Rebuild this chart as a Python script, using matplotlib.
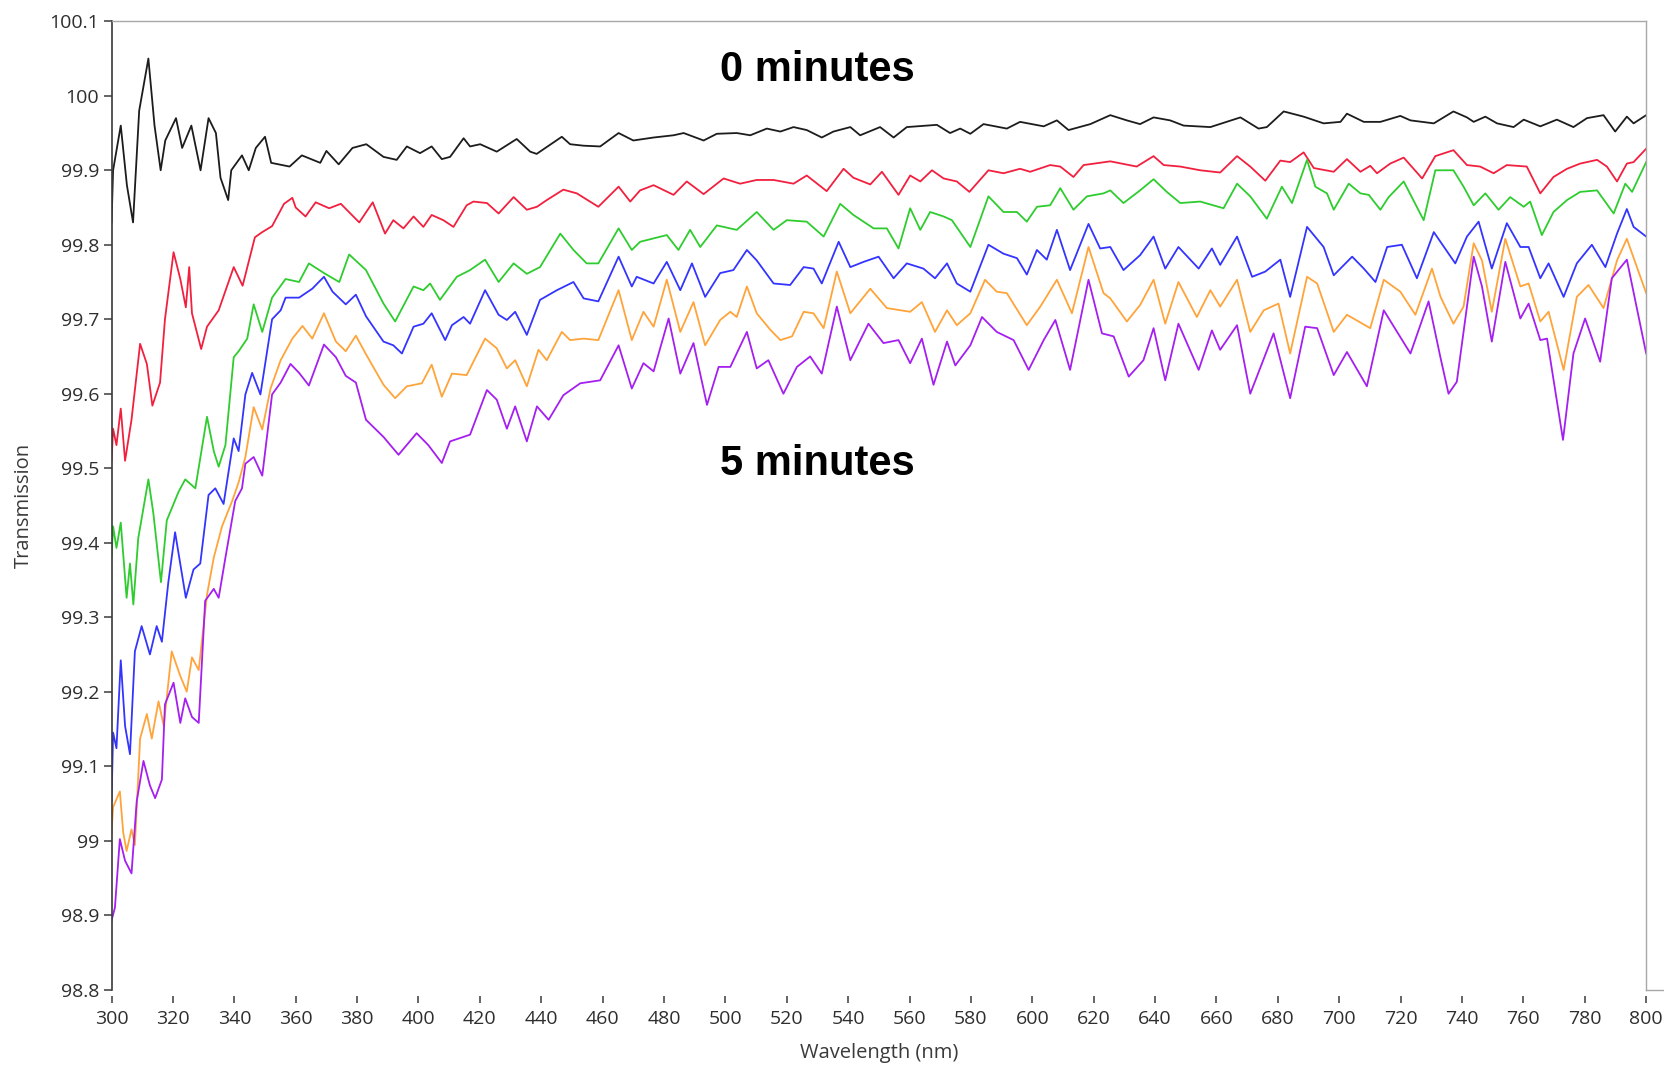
import matplotlib
matplotlib.use("Agg")
import matplotlib.pyplot as plt
from matplotlib.lines import Line2D

# transmission spectra taken every minute, 0 min (top) to 5 min (bottom)
wl_0 = [300, 300.5, 303, 305, 307, 309, 312, 314, 316, 317.5, 321, 323, 326, 329, 331.6, 334, 335.5,
        338, 339, 342.5, 344.7, 347, 350, 352, 358, 362, 368, 370, 374, 378.5, 383, 388.6, 392.9,
        396.2, 400.5, 404.3, 407.6, 410.3, 414.7, 416.8, 420.1, 425.5, 432, 436.4, 438.5, 446.7,
        449.4, 453.8, 459.2, 465.2, 470, 476.6, 483.1, 486.4, 492.9, 497.2, 503.7, 508.1, 513.5,
        517.9, 522.2, 526.5, 531.4, 535.2, 540.7, 543.9, 550.4, 554.8, 559.1, 568.9, 573.2, 576.5,
        579.8, 584.1, 591.7, 596, 603.7, 608, 611.8, 618.9, 625.4, 630.8, 635.1, 639.5, 644.9,
        649.3, 658, 667.8, 673.7, 676.4, 681.9, 688.4, 694.9, 700.4, 702.5, 708, 713.4, 719.9,
        723.2, 730.8, 737.2, 741.6, 743.8, 747.6, 751.4, 756.8, 760.1, 765.5, 770.9, 776.3, 780.7,
        786.1, 789.9, 793.7, 795.9, 800]
t_0 = [99.83, 99.90, 99.96, 99.88, 99.83, 99.98, 100.05, 99.96, 99.90, 99.94, 99.97, 99.93, 99.96,
       99.90, 99.97, 99.95, 99.89, 99.86, 99.90, 99.92, 99.90, 99.93, 99.945, 99.91, 99.905, 99.92,
       99.91, 99.926, 99.908, 99.93, 99.935, 99.918, 99.914, 99.932, 99.923, 99.932, 99.915, 99.918,
       99.943, 99.932, 99.935, 99.925, 99.942, 99.925, 99.922, 99.945, 99.935, 99.933, 99.932,
       99.95, 99.94, 99.944, 99.947, 99.95, 99.94, 99.949, 99.95, 99.947, 99.956, 99.952, 99.958,
       99.954, 99.944, 99.952, 99.958, 99.947, 99.958, 99.944, 99.958, 99.961, 99.95, 99.956,
       99.949, 99.962, 99.956, 99.965, 99.959, 99.967, 99.954, 99.962, 99.974, 99.967, 99.962,
       99.971, 99.967, 99.96, 99.958, 99.971, 99.956, 99.958, 99.979, 99.972, 99.963, 99.965,
       99.976, 99.965, 99.965, 99.973, 99.967, 99.963, 99.979, 99.971, 99.965, 99.972, 99.963,
       99.958, 99.968, 99.959, 99.968, 99.958, 99.97, 99.974, 99.952, 99.972, 99.963, 99.974]

wl_1 = [300, 300.5, 301.6, 303, 304.4, 306.5, 309.3, 311.5, 313.3, 315.8, 317.4, 320.2, 322.4, 324.2,
        325.3, 326.2, 329.2, 331.1, 334.9, 339.8, 342.7, 346.7, 349.1, 352.3, 356.2, 358.9, 360,
        363.2, 366.5, 370.9, 374.7, 380.7, 385.1, 389.1, 391.8, 395.1, 398.4, 401.6, 404.3, 408.1,
        411.4, 415.7, 417.9, 422.3, 426.1, 431, 435.3, 438.6, 441.8, 447.2, 451.6, 458.6, 465.2,
        469, 472.2, 476.6, 483.1, 487.4, 492.9, 499.4, 504.8, 510.2, 515.7, 522.2, 526.5, 533,
        538.5, 541.7, 547.2, 551, 556.4, 560.2, 563.5, 567.3, 571.1, 575.4, 579.5, 585.7, 590.6,
        596, 599.3, 605.8, 609.1, 613.4, 616.7, 625.4, 634, 639.5, 642.8, 648.2, 654.7, 661.2,
        666.7, 671, 675.9, 680.8, 684, 688.4, 691.7, 698.2, 702.5, 706.9, 710.1, 712.3, 716.6,
        721, 727, 731.3, 737.2, 741.6, 745.9, 750.3, 754.6, 761.1, 765.5, 769.8, 774.2, 778.5,
        784, 787.2, 790.5, 793.7, 795.9, 800]
t_1 = [99.51, 99.553, 99.531, 99.58, 99.51, 99.565, 99.667, 99.64, 99.584, 99.615, 99.70, 99.79,
       99.754, 99.716, 99.77, 99.708, 99.66, 99.69, 99.712, 99.77, 99.745, 99.81, 99.817, 99.825,
       99.855, 99.863, 99.85, 99.838, 99.857, 99.849, 99.855, 99.83, 99.857, 99.815, 99.833,
       99.822, 99.838, 99.824, 99.84, 99.833, 99.824, 99.853, 99.858, 99.856, 99.842, 99.864,
       99.847, 99.851, 99.86, 99.874, 99.869, 99.851, 99.878, 99.858, 99.873, 99.88, 99.867,
       99.885, 99.868, 99.889, 99.882, 99.887, 99.887, 99.882, 99.893, 99.872, 99.902, 99.89,
       99.881, 99.898, 99.867, 99.893, 99.885, 99.90, 99.889, 99.885, 99.871, 99.90, 99.896,
       99.902, 99.898, 99.907, 99.905, 99.891, 99.907, 99.912, 99.905, 99.919, 99.907, 99.905,
       99.90, 99.897, 99.919, 99.905, 99.886, 99.913, 99.911, 99.924, 99.903, 99.898, 99.915,
       99.898, 99.906, 99.896, 99.909, 99.917, 99.889, 99.919, 99.927, 99.907, 99.905, 99.896,
       99.907, 99.905, 99.869, 99.891, 99.902, 99.909, 99.914, 99.905, 99.885, 99.909, 99.911,
       99.929]

wl_2 = [300, 300.5, 301.6, 303, 304.9, 306, 307.1, 308.7, 312, 313.6, 316.1, 318, 321.8, 324, 327.3,
        331.1, 333.3, 334.9, 337.1, 339.8, 341.4, 344.2, 346.3, 349.1, 352.3, 356.7, 361.1, 364.3,
        369.2, 374.2, 377.4, 382.9, 388.6, 392.4, 398.4, 401.6, 403.8, 407, 412.5, 416.8, 421.7,
        426.1, 431, 435.3, 439.6, 446.2, 450.5, 454.8, 458.6, 465.2, 469.5, 472.2, 480.9, 484.7,
        488.5, 491.8, 497.2, 503.7, 510.2, 515.7, 520, 526.5, 532, 537.4, 541.7, 548.3, 552.6,
        556.4, 560.2, 563.5, 566.7, 571.1, 573.8, 579.8, 585.7, 590.6, 595, 598.2, 601.5, 605.8,
        609.1, 613.4, 617.8, 623.2, 625.4, 629.7, 635.1, 639.5, 643.8, 648.2, 654.7, 662.3, 666.7,
        671, 676.4, 681.3, 684.6, 689.5, 692.2, 696, 698.2, 703.1, 706.9, 709.6, 713.4, 716.1,
        721, 727.5, 731.3, 737.2, 740.5, 743.8, 747.6, 751.9, 755.7, 760.1, 762.2, 766, 769.8,
        774.2, 778.5, 784, 789.4, 793.2, 795.4, 800]
t_2 = [99.38, 99.422, 99.393, 99.427, 99.326, 99.372, 99.317, 99.406, 99.485, 99.44, 99.347, 99.43,
       99.468, 99.485, 99.473, 99.569, 99.523, 99.502, 99.531, 99.649, 99.657, 99.674, 99.72,
       99.683, 99.729, 99.754, 99.75, 99.775, 99.762, 99.75, 99.787, 99.766, 99.721, 99.697,
       99.744, 99.739, 99.748, 99.726, 99.757, 99.766, 99.78, 99.75, 99.775, 99.761, 99.77,
       99.815, 99.793, 99.775, 99.775, 99.822, 99.793, 99.804, 99.813, 99.793, 99.82, 99.797,
       99.826, 99.82, 99.844, 99.82, 99.833, 99.831, 99.811, 99.855, 99.84, 99.822, 99.822,
       99.795, 99.849, 99.82, 99.844, 99.838, 99.833, 99.797, 99.865, 99.844, 99.844, 99.831,
       99.851, 99.853, 99.876, 99.847, 99.865, 99.869, 99.873, 99.856, 99.873, 99.888, 99.871,
       99.856, 99.858, 99.849, 99.882, 99.865, 99.835, 99.878, 99.856, 99.914, 99.878, 99.869,
       99.847, 99.882, 99.869, 99.867, 99.847, 99.864, 99.885, 99.833, 99.90, 99.90, 99.878,
       99.853, 99.869, 99.847, 99.864, 99.851, 99.858, 99.813, 99.844, 99.86, 99.871, 99.873,
       99.842, 99.882, 99.871, 99.911]

wl_3 = [300, 300.5, 301.6, 303, 304.4, 306, 307.6, 309.8, 312.5, 314.7, 316.4, 318.5, 320.7, 324.2,
        326.7, 328.9, 331.6, 333.8, 336.5, 339.8, 341.4, 343.6, 345.8, 348.5, 352.3, 355.1, 356.7,
        361.1, 365.4, 369.2, 372, 376.3, 379.6, 382.9, 388.6, 391.8, 394.6, 398.4, 401.6, 404.3,
        408.7, 410.9, 414.7, 416.8, 421.7, 426.1, 428.8, 431.5, 435.3, 439.6, 445.1, 450.5, 453.8,
        458.6, 465.2, 469.5, 471.1, 476.6, 480.9, 485.3, 489.1, 493.4, 498.3, 502.6, 507, 510.2,
        515.7, 521.1, 525.5, 528.7, 531.4, 536.9, 540.7, 545, 549.9, 554.8, 559.1, 564.5, 568.3,
        572.2, 575.4, 579.8, 585.7, 590.6, 595, 598.2, 601.5, 604.7, 608, 612.3, 618.3, 622.1,
        625.4, 629.7, 635.1, 639.5, 643.3, 647.6, 654.2, 658.5, 661.2, 666.7, 671.6, 675.9, 680.8,
        684, 689.5, 694.9, 698.2, 704.2, 708, 711.8, 715.6, 720.4, 725.3, 730.8, 737.8, 741.6,
        745.4, 749.7, 754.6, 759, 761.7, 765.5, 768.2, 773.1, 777.4, 782.3, 786.7, 790.5, 793.7,
        795.9, 800]
t_3 = [99.053, 99.145, 99.124, 99.242, 99.154, 99.116, 99.254, 99.288, 99.25, 99.288, 99.267,
       99.347, 99.414, 99.326, 99.364, 99.372, 99.464, 99.473, 99.452, 99.54, 99.523, 99.599,
       99.628, 99.599, 99.70, 99.712, 99.729, 99.729, 99.741, 99.757, 99.737, 99.72, 99.733,
       99.704, 99.67, 99.665, 99.654, 99.69, 99.694, 99.708, 99.672, 99.692, 99.703, 99.694,
       99.739, 99.706, 99.699, 99.71, 99.679, 99.726, 99.739, 99.75, 99.728, 99.724, 99.784,
       99.744, 99.757, 99.748, 99.777, 99.739, 99.775, 99.73, 99.762, 99.766, 99.793, 99.779,
       99.748, 99.746, 99.77, 99.768, 99.748, 99.804, 99.77, 99.777, 99.784, 99.755, 99.775,
       99.768, 99.755, 99.775, 99.748, 99.737, 99.80, 99.788, 99.782, 99.76, 99.793, 99.78,
       99.82, 99.766, 99.828, 99.795, 99.797, 99.766, 99.786, 99.811, 99.768, 99.797, 99.768,
       99.795, 99.773, 99.811, 99.757, 99.764, 99.78, 99.73, 99.824, 99.797, 99.759, 99.784,
       99.768, 99.75, 99.797, 99.80, 99.755, 99.817, 99.775, 99.811, 99.831, 99.768, 99.829,
       99.797, 99.797, 99.755, 99.775, 99.73, 99.775, 99.80, 99.77, 99.815, 99.848, 99.824,
       99.811]

wl_4 = [300, 300.5, 302.7, 303.8, 304.9, 306.5, 307.6, 309.3, 311.5, 313.1, 315.3, 317, 319.6, 322.4,
        324.5, 326.2, 328.4, 331.1, 333.3, 336, 339.3, 341.4, 343.6, 346.3, 349.1, 351.8, 355.1,
        358.9, 362.2, 365.4, 369.2, 373.1, 376.3, 379.6, 382.9, 388.6, 392.4, 396.2, 401.1, 404.3,
        407.6, 410.9, 415.7, 421.7, 425.5, 428.8, 431.5, 435.3, 439.1, 441.8, 446.7, 449.4, 453.8,
        458.6, 465.2, 469.5, 473.3, 476.6, 480.9, 485.3, 489.6, 493.4, 498.3, 501.6, 503.7, 507,
        510.2, 514.6, 517.9, 521.7, 525.5, 528.7, 532, 536.3, 540.7, 547.2, 552.6, 560.2, 564,
        568.3, 572.2, 575.4, 579.8, 584.6, 588.4, 591.7, 598.2, 602.6, 608, 612.9, 618.3, 623.2,
        625.4, 630.8, 635.1, 639.5, 643.3, 647.6, 653.6, 658, 661.2, 666.7, 671, 675.4, 680.2,
        684, 689.5, 692.8, 698.2, 702.5, 710.1, 714.5, 719.9, 724.8, 730.2, 733, 737.2, 740.5,
        743.8, 746.5, 749.7, 754.1, 759, 761.7, 765.5, 768.2, 773.1, 777.4, 781.2, 786.1, 790.5,
        793.7, 800]
t_4 = [99.011, 99.045, 99.066, 99.011, 98.986, 99.015, 98.994, 99.137, 99.17, 99.137, 99.187,
       99.154, 99.254, 99.221, 99.20, 99.246, 99.229, 99.33, 99.38, 99.422, 99.456, 99.481,
       99.515, 99.582, 99.552, 99.607, 99.645, 99.674, 99.691, 99.674, 99.708, 99.67, 99.657,
       99.678, 99.653, 99.612, 99.594, 99.61, 99.614, 99.639, 99.596, 99.627, 99.625, 99.674,
       99.661, 99.634, 99.645, 99.61, 99.659, 99.645, 99.683, 99.672, 99.674, 99.672, 99.739,
       99.672, 99.71, 99.69, 99.753, 99.683, 99.723, 99.665, 99.699, 99.71, 99.703, 99.744,
       99.708, 99.686, 99.672, 99.677, 99.71, 99.708, 99.688, 99.764, 99.708, 99.741, 99.715,
       99.71, 99.723, 99.683, 99.712, 99.692, 99.708, 99.753, 99.737, 99.735, 99.692, 99.717,
       99.753, 99.708, 99.797, 99.735, 99.728, 99.697, 99.719, 99.753, 99.694, 99.75, 99.703,
       99.739, 99.717, 99.753, 99.683, 99.712, 99.721, 99.654, 99.757, 99.748, 99.683, 99.706,
       99.688, 99.753, 99.737, 99.706, 99.768, 99.73, 99.694, 99.717, 99.802, 99.779, 99.71,
       99.808, 99.744, 99.748, 99.697, 99.71, 99.632, 99.73, 99.746, 99.715, 99.779, 99.808,
       99.735]

wl_5 = [300, 301.1, 302.7, 304.4, 306.5, 308.2, 310.4, 312.5, 314.2, 316.4, 317.4, 320.2, 322.4, 324,
        326.2, 328.4, 330.5, 333.3, 334.9, 337.1, 340.3, 342.5, 343.6, 346.3, 349.1, 352.3, 355.1,
        358.3, 361.1, 364.3, 369.2, 373.1, 376.3, 379.6, 382.9, 388.6, 393.5, 399.4, 403.2, 407.6,
        410.3, 416.8, 422.3, 425.5, 428.8, 431.5, 435.3, 438.6, 442.4, 447.2, 452.7, 459.2, 465.2,
        469.5, 473.3, 476.6, 481.5, 485.3, 489.6, 494, 497.8, 501.6, 507, 510.2, 514, 518.9, 523.3,
        527.6, 531.4, 536.3, 540.7, 546.6, 551.5, 556.4, 560.2, 564, 567.8, 572.2, 574.9, 579.8,
        583.6, 588.4, 593.9, 598.8, 603.7, 607.5, 612.3, 618.3, 622.7, 626.5, 631.4, 636.2, 639.5,
        643.3, 647.6, 654.2, 658.5, 661.2, 666.7, 671, 678.6, 684, 688.9, 692.8, 698.2, 702.5, 709,
        714.5, 723.2, 729.1, 732.9, 735.6, 738.3, 743.8, 746.5, 749.7, 754.1, 759, 761.7, 765.5,
        767.7, 772.9, 776.3, 780.1, 785, 788.8, 793.7, 800]
t_5 = [98.893, 98.91, 99.002, 98.973, 98.956, 99.053, 99.107, 99.074, 99.057, 99.082, 99.183,
       99.212, 99.158, 99.191, 99.166, 99.158, 99.322, 99.338, 99.326, 99.38, 99.456, 99.473,
       99.506, 99.515, 99.49, 99.599, 99.615, 99.64, 99.628, 99.611, 99.666, 99.649, 99.624,
       99.615, 99.565, 99.542, 99.518, 99.547, 99.531, 99.507, 99.536, 99.545, 99.605, 99.592,
       99.553, 99.583, 99.536, 99.583, 99.565, 99.598, 99.614, 99.618, 99.665, 99.607, 99.641,
       99.63, 99.701, 99.627, 99.668, 99.585, 99.636, 99.636, 99.683, 99.634, 99.645, 99.60,
       99.636, 99.65, 99.627, 99.717, 99.645, 99.694, 99.668, 99.672, 99.641, 99.674, 99.612,
       99.67, 99.638, 99.665, 99.703, 99.683, 99.672, 99.632, 99.672, 99.699, 99.632, 99.753,
       99.681, 99.677, 99.623, 99.645, 99.688, 99.618, 99.694, 99.632, 99.685, 99.659, 99.692,
       99.60, 99.681, 99.594, 99.69, 99.688, 99.625, 99.656, 99.61, 99.712, 99.654, 99.724,
       99.65, 99.60, 99.616, 99.784, 99.744, 99.67, 99.777, 99.701, 99.721, 99.672, 99.674,
       99.538, 99.654, 99.701, 99.643, 99.755, 99.78, 99.654]

spectra = [(wl_0, t_0, "#1c1c1c"), (wl_1, t_1, "#f2203f"), (wl_2, t_2, "#2fcc2f"),
           (wl_3, t_3, "#3434ff"), (wl_4, t_4, "#ffa43a"), (wl_5, t_5, "#a41ff0")]

x_ticks = list(range(300, 801, 20))
y_ticks = [98.8, 98.9, 99.0, 99.1, 99.2, 99.3, 99.4, 99.5, 99.6, 99.7, 99.8, 99.9, 100.0, 100.1]
y_ticklabels = ["98.8", "98.9", "99", "99.1", "99.2", "99.3", "99.4", "99.5", "99.6", "99.7",
                "99.8", "99.9", "100", "100.1"]

fig = plt.figure(figsize=(16.65, 10.66), dpi=100)
ax = fig.add_axes([0.067, 0.0717, 0.9217, 0.9083])

for wl, t, c in spectra:
    ax.plot(wl, t, color=c, lw=1.3, solid_joinstyle="round")

# bottom spine hidden and pushed down so the x ticks hang just below the plot
ax.spines["bottom"].set_position(("outward", 4.5))
ax.spines["bottom"].set_visible(False)
ax.spines["left"].set_color("#3a3a3a")
ax.spines["left"].set_linewidth(1.2)
for s in ["top", "right"]:
    ax.spines[s].set_color("#a8a8a8")
    ax.spines[s].set_linewidth(1.0)

ax.set_xlim(300, 800)
ax.set_ylim(98.8, 100.1)
ax.set_xticks(x_ticks)
ax.set_yticks(y_ticks)
ax.set_yticklabels(y_ticklabels)

ax.tick_params(axis="x", direction="out", length=5, width=1.1, color="#3a3a3a", pad=5)
ax.tick_params(axis="y", direction="out", length=6, width=1.1, color="#3a3a3a", pad=3)
ax.tick_params(axis="both", labelsize=14, labelcolor="#2e2e2e", labelfontfamily="Open Sans")

ax.set_xlabel("Wavelength (nm)", family="Open Sans", size=14.5, color="#3a3a3a", va="center")
ax.xaxis.set_label_coords(0.5, -0.0655)
ax.set_ylabel("Transmission", family="Open Sans", size=14.5, color="#3a3a3a", va="center")
ax.yaxis.set_label_coords(-0.057, 0.5)

ax.text(530, 100.034, "0 minutes", family="Liberation Sans", weight="bold", size=30,
        ha="center", va="center")
ax.text(530, 99.506, "5 minutes", family="Liberation Sans", weight="bold", size=30,
        ha="center", va="center")

# short frame stub to the right of the plot
fig.add_artist(Line2D([0.9886, 1.0], [0.0717, 0.0717], color="#a8a8a8", lw=1.0))

fig.savefig("out.png", dpi=100)
